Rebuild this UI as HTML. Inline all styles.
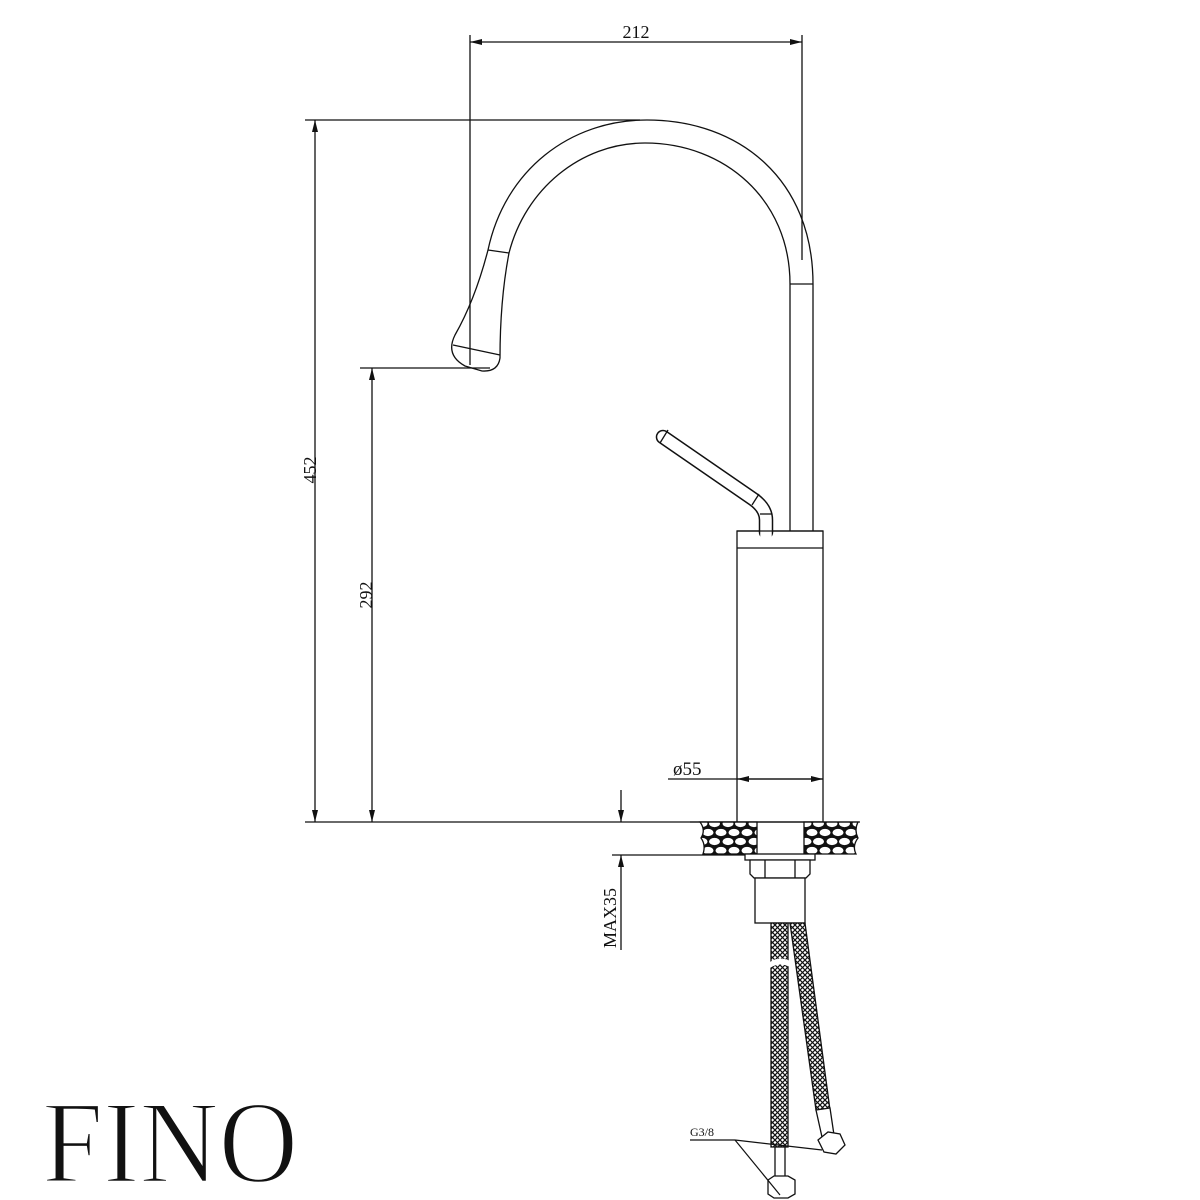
<!DOCTYPE html>
<html><head><meta charset="utf-8"><style>html,body{margin:0;padding:0;background:#fff}svg{display:block}</style></head>
<body>
<svg width="1200" height="1200" viewBox="0 0 1200 1200" xmlns="http://www.w3.org/2000/svg">
<defs>
<pattern id="mesh" width="5" height="5" patternUnits="userSpaceOnUse">
<rect width="5" height="5" fill="#fff"/>
<path d="M0 0L5 5M5 0L0 5" stroke="#111" stroke-width="1.2"/>
</pattern>
<pattern id="peb" width="26" height="18" patternUnits="userSpaceOnUse">
<rect width="26" height="18" fill="#111"/>
<ellipse cx="6" cy="4.5" rx="5.5" ry="3.6" fill="#fff"/>
<ellipse cx="19" cy="4.5" rx="5.5" ry="3.6" fill="#fff"/>
<ellipse cx="12.5" cy="13.5" rx="5.5" ry="3.6" fill="#fff"/>
<ellipse cx="0" cy="13.5" rx="5.5" ry="3.6" fill="#fff"/>
<ellipse cx="26" cy="13.5" rx="5.5" ry="3.6" fill="#fff"/>
</pattern>
<marker id="ar" viewBox="0 0 12 6" refX="12" refY="3" markerWidth="12" markerHeight="6" orient="auto-start-reverse" markerUnits="userSpaceOnUse">
<path d="M0 0L12 3L0 6z" fill="#111"/>
</marker>
</defs>
<g fill="none" stroke="#111" stroke-width="1.3">
<line x1="470" y1="35" x2="470" y2="365"/>
<line x1="802" y1="35" x2="802" y2="260"/>
<line x1="470" y1="42" x2="802" y2="42" marker-start="url(#ar)" marker-end="url(#ar)"/>
<line x1="305" y1="120" x2="640" y2="120"/>
<line x1="315" y1="120" x2="315" y2="822" marker-start="url(#ar)" marker-end="url(#ar)"/>
<line x1="360" y1="368" x2="490" y2="368"/>
<line x1="372" y1="368" x2="372" y2="822" marker-start="url(#ar)" marker-end="url(#ar)"/>
<line x1="305" y1="822" x2="737" y2="822"/>
<path d="M813 284 C813 180 740 120 647 120 C570 120 505 170 488 250"/>
<path d="M790 284 C790 200 725 143 645 143 C580 143 525 190 509 253"/>
<path d="M488 250 Q475 300 455 335 Q445 355 465 366 L482 371 Q498 372 500 358 Q500 300 509 253"/>
<line x1="453" y1="345" x2="500" y2="355"/>
<line x1="488" y1="250" x2="509" y2="253"/>
<line x1="790" y1="284" x2="813" y2="284"/>
<line x1="790" y1="284" x2="790" y2="531"/>
<line x1="813" y1="284" x2="813" y2="531"/>
<rect x="737" y="531" width="86" height="291"/>
<line x1="737" y1="548" x2="823" y2="548"/>
</g>
<path d="M663 437 L753 499 Q766 508 766 520 L766 532" fill="none" stroke="#111" stroke-width="14.5" stroke-linecap="round"/>
<path d="M663 437 L753 499 Q766 508 766 520 L766 540" fill="none" stroke="#fff" stroke-width="11.5" stroke-linecap="round"/>
<g fill="none" stroke="#111" stroke-width="1.3">
<line x1="737" y1="531" x2="823" y2="531"/>
<line x1="760" y1="514" x2="772" y2="514"/>
<line x1="752" y1="505" x2="759" y2="494"/>
<line x1="660" y1="443" x2="668" y2="430"/>
<line x1="668" y1="779" x2="823" y2="779"/>
<line x1="737" y1="779" x2="823" y2="779" marker-start="url(#ar)" marker-end="url(#ar)"/>
</g>
<path d="M700 822 H757 V854 H703 Q706 845 701 838 Q706 830 700 822Z" fill="url(#peb)" stroke="#111" stroke-width="1.3"/>
<path d="M804 822 H858 Q854 830 858 838 Q852 846 856 854 H804Z" fill="url(#peb)" stroke="#111" stroke-width="1.3"/>
<g fill="#fff" stroke="#111" stroke-width="1.3">
<line x1="690" y1="822" x2="860" y2="822"/>
<line x1="612" y1="855" x2="745" y2="855"/>
<rect x="745" y="854" width="70" height="6"/>
<path d="M750 860 H810 V874 L806 878 H754 L750 874Z"/>
<line x1="765" y1="860" x2="765" y2="878"/>
<line x1="795" y1="860" x2="795" y2="878"/>
<rect x="755" y="878" width="50" height="45"/>
</g>
<g stroke="#111" stroke-width="1.3" fill="none">
<line x1="621" y1="790" x2="621" y2="822" marker-end="url(#ar)"/>
<line x1="621" y1="950" x2="621" y2="855" marker-end="url(#ar)"/>
</g>
<path d="M790 923 H805 L830 1110 H816Z" fill="url(#mesh)" stroke="#111" stroke-width="1.3"/>
<path d="M771 923 H788 V1147 H771Z" fill="url(#mesh)" stroke="#111" stroke-width="1.3"/>
<path d="M770 962 Q780 955 792 962 L792 968 Q780 961 770 968Z" fill="#fff"/>
<g fill="#fff" stroke="#111" stroke-width="1.3">
<rect x="775" y="1147" width="10" height="30"/>
<path d="M768 1180 L774 1176 H788 L795 1180 V1194 L788 1198 H774 L768 1194Z"/>
<path d="M816 1110 L830 1108 L834 1135 L822 1137Z"/>
<path d="M818 1140 L828 1132 L840 1134 L845 1145 L836 1154 L824 1152Z"/>
</g>
<g stroke="#111" stroke-width="1.2" fill="none">
<line x1="690" y1="1140" x2="735" y2="1140"/>
<line x1="735" y1="1140" x2="822" y2="1150"/>
<line x1="735" y1="1140" x2="780" y2="1195"/>
</g>
<g font-family="'Liberation Serif', serif" fill="#111" font-size="18">
<text x="636" y="38" text-anchor="middle">212</text>
<text transform="translate(316 470) rotate(-90)" text-anchor="middle">452</text>
<text transform="translate(372 595) rotate(-90)" text-anchor="middle">292</text>
<text x="673" y="775" font-size="19">ø55</text>
<text transform="translate(616 918) rotate(-90)" text-anchor="middle">MAX35</text>
<text x="690" y="1136" font-size="12">G3/8</text>
</g>
<text x="42" y="1182" font-family="'Liberation Serif', serif" font-size="118" fill="#111" stroke="#fff" stroke-width="2.5" textLength="256" lengthAdjust="spacingAndGlyphs">FINO</text>
</svg>
</body></html>
